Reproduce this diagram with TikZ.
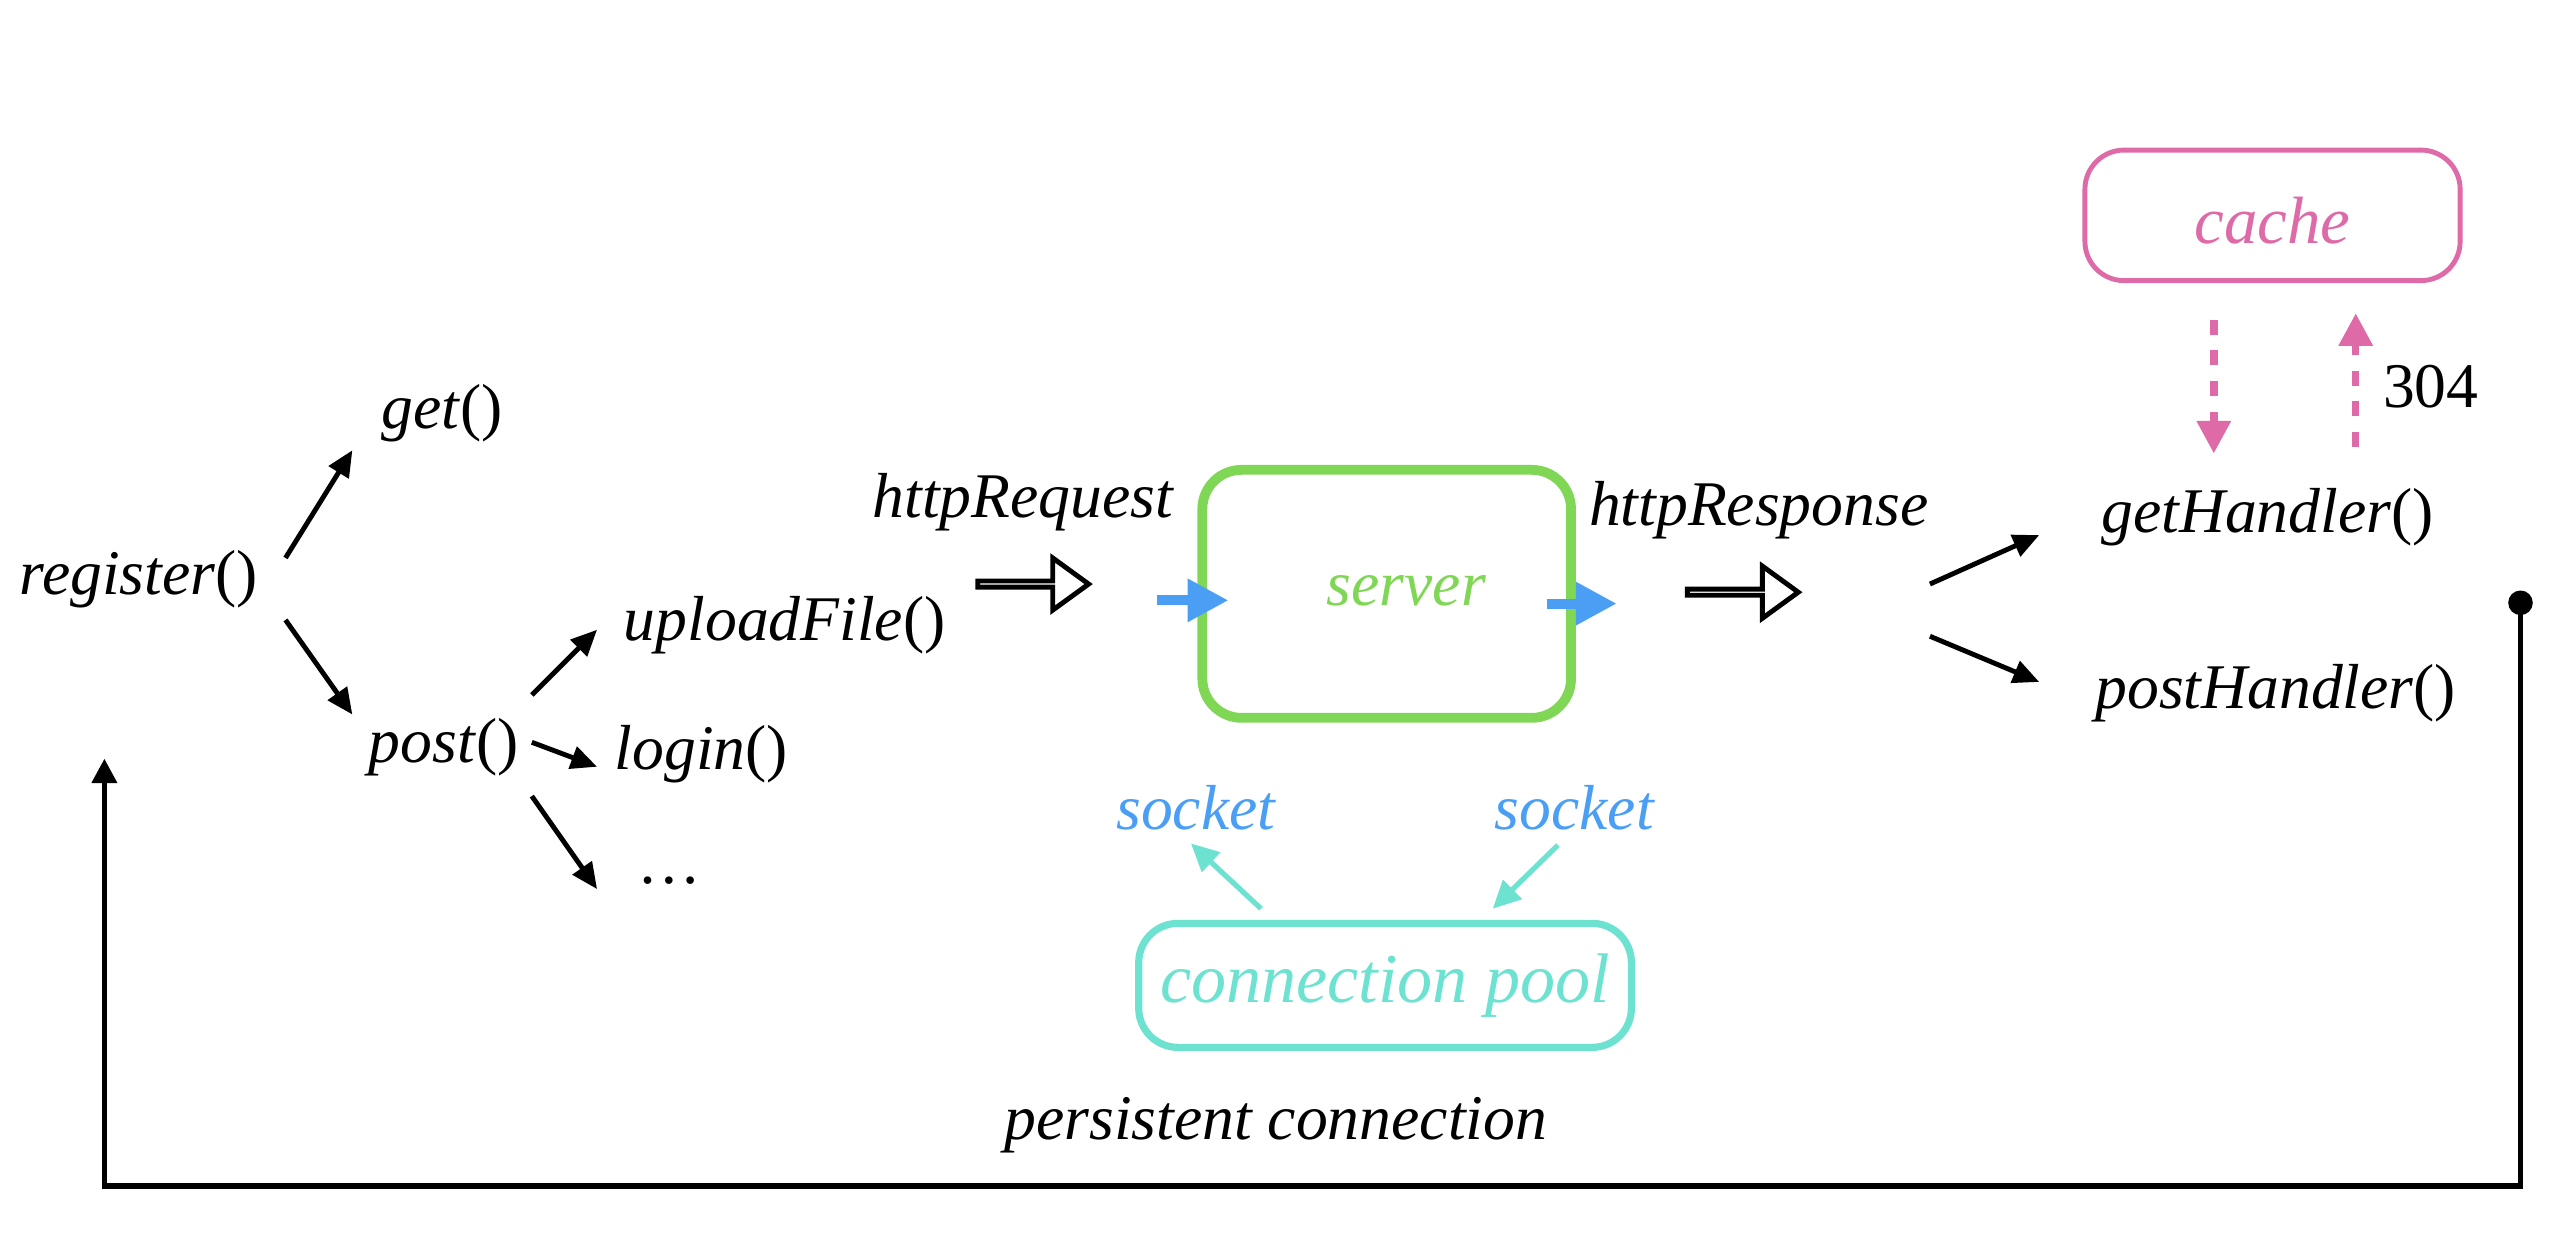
\documentclass[tikz,border=0pt]{standalone}
\usepackage{fontspec}
\setmainfont{Liberation Serif}
\usetikzlibrary{arrows.meta,shapes.arrows}
\definecolor{srvgreen}{RGB}{128,214,85}
\definecolor{sockblue}{RGB}{74,159,245}
\definecolor{cachepink}{RGB}{222,106,168}
\definecolor{poolteal}{RGB}{110,226,208}
\begin{document}
\begin{tikzpicture}[x=0.5pt,y=-0.5pt,
  lbl/.style={inner sep=0pt, font=\fontsize{19.5}{23}\selectfont\itshape},
  arr/.style={line width=1.5pt, -{Triangle[length=8pt,width=7pt]}},
  hollow/.style={single arrow, draw, line width=1.5pt, minimum height=34pt,
    minimum width=16pt, single arrow head extend=5.6pt, single arrow tip angle=72,
    inner sep=0pt},
  bluearr/.style={draw=sockblue, line width=3pt, -{Triangle[length=12.5pt,width=12.5pt,fill=sockblue]}},
  pinkarr/.style={draw=cachepink, line width=2.3pt, dash pattern=on 4.6pt off 4.8pt,
    -{Triangle[length=10pt,width=10pt,fill=cachepink]}},
  tealarr/.style={draw=poolteal, line width=1.6pt, -{Triangle[length=8.5pt,width=8pt,fill=poolteal]}},
  box/.style={draw, rounded corners=12pt, inner sep=0pt}]
\useasboundingbox (0,0) rectangle (1568,756);

% left tree
\node[lbl] (reg) at (85,355) {register\textup{()}};
\node[lbl] (get) at (271,253) {get\textup{()}};
\node[lbl] (post) at (272,458) {post\textup{()}};
\node[lbl] (upl) at (481,383) {uploadFile\textup{()}};
\node[lbl] (login) at (430,462) {login\textup{()}};
\node[lbl] (dots) at (410,540) {\textup{\ldots}};

\draw[arr] ([shift={(90,-13)}]reg.center) -- ([shift={(-55,23)}]get.center);
\draw[arr] ([shift={(90,25)}]reg.center) -- ([shift={(-56,-20)}]post.center);
\draw[arr] ([shift={(54,-32)}]post.center) -- ([shift={(-115,3)}]upl.center);
\draw[arr] ([shift={(54,-3)}]post.center) -- ([shift={(-64,8)}]login.center);
\draw[arr] ([shift={(54,30)}]post.center) -- ([shift={(-44,5)}]dots.center);

% request
\node[lbl] (req) at (627,308) {httpRequest};
\node[hollow] (h1) at (632,358) {};

% server
\node[box, draw=srvgreen, line width=3pt, minimum width=113pt, minimum height=76pt] (srv) at (850,364) {};
\node[lbl, text=srvgreen] (srvt) at (862,362) {server};
\draw[bluearr] ([shift={(-25,4)}]srv.west) -- ([shift={(19,4)}]srv.west);
\draw[bluearr] ([shift={(-18,6)}]srv.east) -- ([shift={(25,6)}]srv.east);

% response
\node[lbl] (resp) at (1078,313) {httpResponse};
\node[hollow] (h2) at (1067,363) {};

\node[lbl] (geth) at (1390,317) {getHandler\textup{()}};
\node[lbl] (posth) at (1395,425) {postHandler\textup{()}};
\draw[arr] ([shift={(-207,41)}]geth.center) -- ([shift={(-140,11)}]geth.center);
\draw[arr] ([shift={(-212,-35)}]posth.center) -- ([shift={(-145,-7)}]posth.center);

% cache
\node[box, draw=cachepink, line width=1.5pt, minimum width=115pt, minimum height=40pt] (cache) at (1393,132) {};
\node[inner sep=0pt, font=\fontsize{20.5}{24}\selectfont\itshape, text=cachepink] (cachet) at (1393,135) {cache};
\draw[pinkarr] ([shift={(-36,64)}]cache.center) -- ([shift={(-33,-39)}]geth.center);
\draw[pinkarr] ([shift={(54,-43)}]geth.center) -- ([shift={(51,60)}]cache.center);
\node[inner sep=0pt, font=\fontsize{19.5}{23}\selectfont] (n304) at (1490,237) {304};

% connection pool
\node[lbl, text=sockblue] (sockl) at (733,495) {socket};
\node[lbl, text=sockblue] (sockr) at (965,495) {socket};
\node[box, draw=poolteal, line width=2.2pt, minimum width=151pt, minimum height=38pt] (pool) at (849,604) {};
\node[inner sep=0pt, font=\fontsize{21.5}{25}\selectfont\itshape, text=poolteal] (poolt) at (849,604) {connection pool};
\draw[tealarr] ([shift={(-76,-47)}]pool.center) -- ([shift={(-3,22)}]sockl.center);
\draw[tealarr] ([shift={(-10,23)}]sockr.center) -- ([shift={(66,-47)}]pool.center);

\node[lbl] (pers) at (782,690) {persistent connection};

% persistent loop
\coordinate (pcdot) at (1545,362);
\coordinate (pctip) at ([shift={(-21,110)}]reg.center);
\draw[line width=1.7pt, {Circle[length=7.5pt]}-{Triangle[length=7.5pt,width=7.5pt]}] (pcdot) -- ++(0,365) -| (pctip);
\end{tikzpicture}
\end{document}
